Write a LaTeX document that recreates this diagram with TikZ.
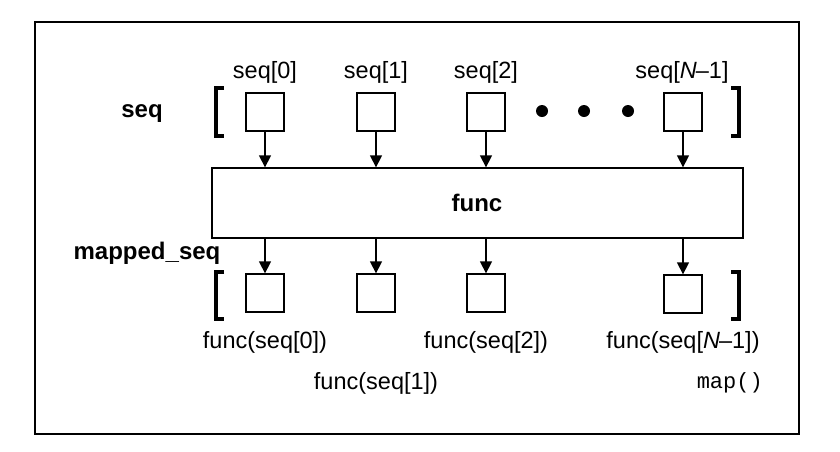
\documentclass[tikz,border=0pt]{standalone}
\usepackage{fontspec}
\setmainfont{Liberation Sans}
\setmonofont{Liberation Mono}
\usetikzlibrary{arrows.meta}
\begin{document}
\begin{tikzpicture}[x=1pt,y=-1pt,
  cell/.style={draw,line width=1.3pt,minimum width=38pt,minimum height=38pt,inner sep=0pt},
  lbl/.style={font=\fontsize{23.5}{26}\selectfont,inner sep=0pt},
  blbl/.style={font=\fontsize{24}{26}\selectfont\bfseries,inner sep=0pt},
  arr/.style={line width=1.3pt,-{Triangle[width=12pt,length=12pt]}},
  brk/.style={line width=3.2pt,line cap=butt}
]
\useasboundingbox (0,0) rectangle (840,451);
% frame
\draw[line width=1.6pt] (35,22) rectangle (799,434);
% top cells
\node[cell] (a0) at (265,112) {};
\node[cell] (a1) at (376,112) {};
\node[cell] (a2) at (486,112) {};
\node[cell] (an) at (683,112) {};
% top labels
\node[lbl] (la0) at (265,72) {seq[0]};
\node[lbl] (la1) at (376,72) {seq[1]};
\node[lbl] (la2) at (486,72) {seq[2]};
\node[lbl] (lan) at (682,72) {seq[\textit{N}\kern-1pt–1]};
\node[blbl] (seq) at (142,114) {seq};
% dots
\fill (542,111) circle (6);
\fill (584,111) circle (6);
\fill (628,111) circle (6);
% brackets
\draw[brk] (224,88) -- (216,88) -- (216,136) -- (224,136);
\draw[brk] (731,88) -- (739,88) -- (739,136) -- (731,136);
% func
\node[draw,line width=1.3pt,minimum width=531pt,minimum height=70pt,inner sep=0pt] (f) at (477.5,203) {};
\node[blbl] (fl) at (477,203) {func};
% arrows in
\foreach \n in {a0,a1,a2,an} \draw[arr] (\n.south) -- (\n.south |- f.north);
% bottom cells
\node[cell] (b0) at (265,293) {};
\node[cell] (b1) at (376,293) {};
\node[cell] (b2) at (486,293) {};
\node[cell] (bn) at (683,294) {};
\foreach \n in {b0,b1,b2,bn} \draw[arr] (\n.north |- f.south) -- (\n.north);
\node[blbl] (ms) at (147,253) {mapped\_seq};
\draw[brk] (224,272) -- (216,272) -- (216,319) -- (224,319);
\draw[brk] (731,272) -- (739,272) -- (739,319) -- (731,319);
% bottom labels
\node[lbl] (lb0) at (265,342) {func(seq[0])};
\node[lbl] (lb1) at (376,383) {func(seq[1])};
\node[lbl] (lb2) at (486,342) {func(seq[2])};
\node[lbl] (lbn) at (683,342) {func(seq[\textit{N}\kern-1pt–1])};
\node[font=\fontsize{22}{26}\ttfamily,inner sep=0pt,anchor=east] (mp) at (763,383) {map()};
\end{tikzpicture}
\end{document}
